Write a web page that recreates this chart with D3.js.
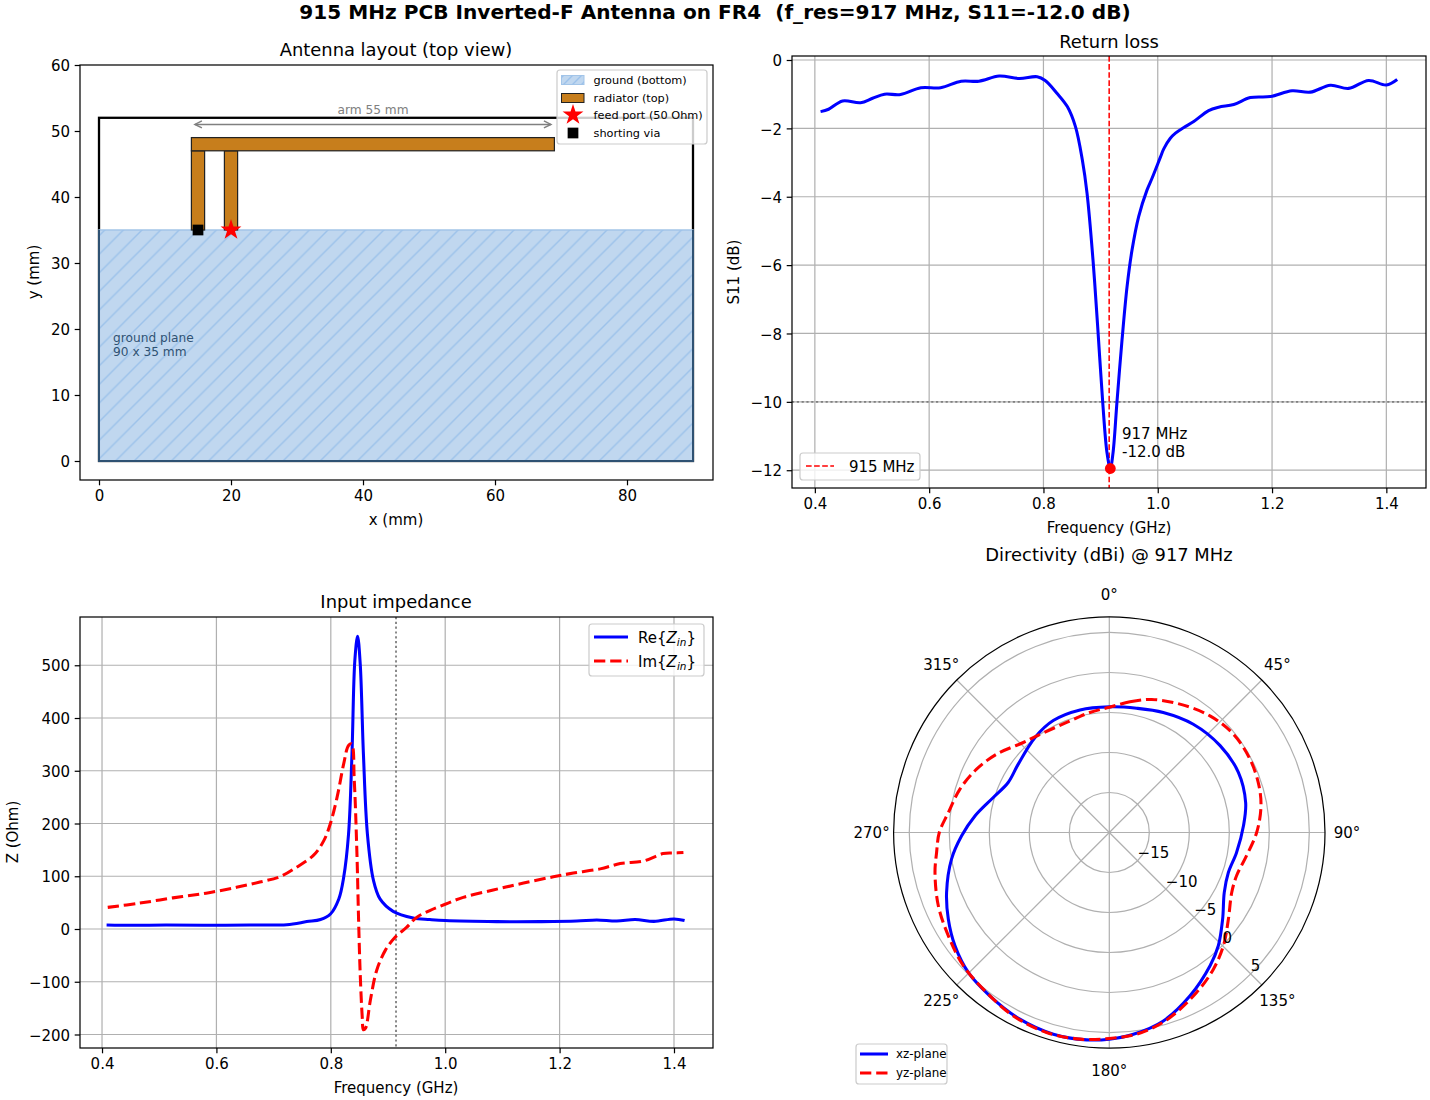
<!DOCTYPE html>
<html>
<head>
<meta charset="utf-8">
<script src="https://cdn.jsdelivr.net/npm/d3@7"></script>
<style>
html,body{margin:0;padding:0;background:#fff;}
svg{display:block;}
text{font-family:"DejaVu Sans",sans-serif;fill:#000;}
</style>
</head>
<body>
<script>
//layout values in mm
var boardSize=[90,52];
var groundSize=[90,35];
var armX=[14,69];
var armY=[47,49];
var legXs=[[14,16],[19,21]];
var legY=[35,47];
var viaPoint=[15,35];
var feedPoint=[20,35];
var arrowX=[14,69];
var arrowY=51;
var layoutXTicks=[0,20,40,60,80];
var layoutYTicks=[0,10,20,30,40,50,60];

//return loss
var s11Freq=[0.41,0.424,0.4485,0.48,0.501,0.522,0.55,0.5855,0.62,0.656,0.687,0.7225,0.758,0.789,0.803,0.824,0.842,0.856,0.868,0.8763,0.8867,0.8949,0.9036,0.9113,0.917,0.9217,0.9287,0.9375,0.9463,0.955,0.9666,0.9813,0.99,1.0045,1.0105,1.022,1.031,1.045,1.063,1.089,1.1065,1.133,1.162,1.197,1.235,1.267,1.302,1.334,1.369,1.4,1.419];
var s11Db=[-1.51,-1.44,-1.2,-1.25,-1.12,-1.0,-1.01,-0.81,-0.81,-0.62,-0.62,-0.47,-0.54,-0.49,-0.6,-0.98,-1.37,-1.95,-2.92,-3.9,-5.85,-7.8,-9.99,-11.5,-11.95,-11.5,-9.99,-8.19,-6.63,-5.56,-4.58,-3.8,-3.46,-2.85,-2.6,-2.29,-2.14,-1.98,-1.8,-1.48,-1.38,-1.3,-1.1,-1.07,-0.9,-0.94,-0.74,-0.83,-0.6,-0.73,-0.57];
var freqTicks=[0.4,0.6,0.8,1.0,1.2,1.4];
var s11Ticks=[0,-2,-4,-6,-8,-10,-12];
var markFreq=0.915;
var resFreq=0.917;
var resDb=-11.95;

//input impedance
var reFreq=[0.408,0.454,0.512,0.582,0.658,0.723,0.758,0.782,0.7994,0.814,0.8225,0.831,0.837,0.842,0.8468,0.8514,0.857,0.864,0.8746,0.886,0.909,0.944,0.973,1.0,1.09,1.166,1.23,1.265,1.3,1.332,1.365,1.4,1.4185];
var reZ=[7.6,7,7.6,7,7.6,8.2,14,18,28.5,57,98,180,332,509,555,503,332,180,92,57,33.5,21,18,16,14,14,15,17,15,18,14.5,19,16];
var imFreq=[0.41,0.4655,0.524,0.582,0.635,0.676,0.711,0.74,0.77,0.788,0.799,0.811,0.8225,0.831,0.8364,0.841,0.8457,0.8486,0.8514,0.855,0.857,0.8607,0.869,0.88,0.895,0.912,0.9324,0.95,0.973,1.0,1.0316,1.084,1.137,1.189,1.224,1.271,1.306,1.347,1.381,1.4,1.4165];
var imZ=[41,49,59,68,79,89,99,117,140,168,199,250,313,348,351,282,142,16,-85,-168,-191,-188,-136,-79,-41,-16,3,22,35,47,60,74,87,99,106,114,124,129,143,144,145];
var zTicks=[-200,-100,0,100,200,300,400,500];
var zFreqLine=0.914;

//directivity
var xzAngle=[0,12.4,24.2,37.8,51.9,65,77.6,87,98.9,108.6,117.5,127.4,136.1,142.9,153.7,164,173.2,180,186.2,195.5,205.6,216.2,225.2,233.7,241.7,249.8,260.4,268.7,277,286.8,296.3,306.9,322,333.4,346.6];
var xzDb=[-4.3,-4.1,-3.55,-2.87,-2.4,-2.2,-2.55,-3.2,-3.9,-4.3,-3.8,-2.17,-0.35,0.88,2.77,4.5,5.4,5.83,6.07,6.16,5.87,5.3,4.83,3.93,2.85,1.67,0,-1.54,-3.08,-4.85,-5.9,-5.77,-4.92,-4.35,-4.25];
var yzAngle=[0,9,17.7,28.8,40.8,51.6,62.5,72.7,80.6,90,99.6,108.8,116.1,126,134.8,142.7,151.4,163,172.3,180,188,197.4,207.6,217.5,227.6,237.3,246.8,257,263.4,270,277,286.2,295.5,304.8,316.3,324,338.8,350.8];
var yzDb=[-4.35,-3.46,-2.55,-1.69,-0.74,-0.21,-0.17,-0.4,-0.79,-1.58,-2.6,-3.2,-2.96,-1.6,0.1,1.47,2.78,4.5,5.44,5.75,6.08,6.2,5.87,5.2,4.7,3.9,3.25,2.36,1.73,1.25,0.28,-0.56,-1.62,-2.84,-4.44,-4.95,-5.25,-4.8];
var angleTicks=[0,45,90,135,180,225,270,315];
var rTicks=[-15,-10,-5,0,5];

var svg=d3.select("body").append("svg")
  .attr("width",1430)
  .attr("height",1100);

var gridW=1.22,lineW=3.05,tickFont=15,titleFont=17.9;
var dashThick="11.3,4.9",dashThin="5.65,2.44",dotted="2.2,2.6";

var defs=svg.append("defs");
function hatch(id,size){
  var p=defs.append("pattern")
    .attr("id",id)
    .attr("patternUnits","userSpaceOnUse")
    .attr("width",size)
    .attr("height",size);
  p.append("path")
    .attr("d",`M0,${size}L${size},0M${-size/2},${size/2}L${size/2},${-size/2}M${size/2},${size*1.5}L${size*1.5},${size/2}`)
    .attr("stroke","#9cc2ea")
    .attr("stroke-width",1.4);
}
hatch("groundHatch",18.6);
hatch("legendHatch",9);

var fmtMinus=function(d){return String(d).replace("-","\u2212");};

//grid lines for one cartesian panel
function grid(box,x,y,xTicks,yTicks){
  var g=svg.append("g");
  g.selectAll(".gx").data(xTicks).enter().append("line")
    .attr("x1",d=>x(d)).attr("x2",d=>x(d))
    .attr("y1",box.top).attr("y2",box.bottom)
    .attr("stroke","#b0b0b0").attr("stroke-width",gridW);
  g.selectAll(".gy").data(yTicks).enter().append("line")
    .attr("x1",box.left).attr("x2",box.right)
    .attr("y1",d=>y(d)).attr("y2",d=>y(d))
    .attr("stroke","#b0b0b0").attr("stroke-width",gridW);
}
function frame(box,x,y,xTicks,yTicks,xFmt){
  var g=svg.append("g");
  var ax=d3.axisBottom(x).tickValues(xTicks).tickFormat(xFmt).tickSize(5.3).tickPadding(4.6);
  var ay=d3.axisLeft(y).tickValues(yTicks).tickFormat(fmtMinus).tickSize(5.3).tickPadding(4.6);
  g.append("g").attr("transform",`translate(0,${box.bottom})`).call(ax);
  var yg=g.append("g").attr("transform",`translate(${box.left},0)`).call(ay);
  yg.selectAll(".tick text").attr("dy","0.38em");
  g.selectAll(".domain").remove();
  g.selectAll(".tick line").attr("stroke","#000").attr("stroke-width",gridW);
  g.selectAll(".tick text").attr("font-size",tickFont).attr("font-family","DejaVu Sans");
  g.append("rect")
    .attr("x",box.left).attr("y",box.top)
    .attr("width",box.right-box.left).attr("height",box.bottom-box.top)
    .attr("fill","none").attr("stroke","#000").attr("stroke-width",gridW);
}
function label(str,x,y,size,opts){
  opts=opts||{};
  var t=svg.append("text")
    .attr("x",x).attr("y",y)
    .attr("font-size",size)
    .attr("text-anchor",opts.anchor||"middle")
    .style("fill",opts.fill||"#000")
    .text(str);
  if(opts.weight)t.attr("font-weight",opts.weight);
  if(opts.rotate)t.attr("transform",`rotate(${opts.rotate},${x},${y})`);
  return t;
}
function legendBox(x,y,w,h){
  svg.append("rect")
    .attr("x",x).attr("y",y).attr("width",w).attr("height",h)
    .attr("rx",3).attr("ry",3)
    .attr("fill","#fff").attr("fill-opacity",0.8)
    .attr("stroke","#ccc").attr("stroke-width",gridW);
}

var tick1=d3.format(".1f");

label("915 MHz PCB Inverted-F Antenna on FR4  (f_res=917 MHz, S11=-12.0 dB)",715,19,20.1,{weight:"bold"}).attr("xml:space","preserve");

//----- antenna layout
var box1={left:80,right:713,top:65,bottom:480};
var x1=d3.scaleLinear().domain([-2.88,93.03]).range([box1.left,box1.right]);
var y1=d3.scaleLinear().domain([-2.88,60]).range([box1.bottom,box1.top]);

svg.append("rect")
  .attr("x",x1(0)).attr("y",y1(boardSize[1]))
  .attr("width",x1(boardSize[0])-x1(0)).attr("height",y1(0)-y1(boardSize[1]))
  .attr("fill","none").attr("stroke","#000").attr("stroke-width",2.3);
svg.append("rect")
  .attr("x",x1(0)).attr("y",y1(groundSize[1]))
  .attr("width",x1(groundSize[0])-x1(0)).attr("height",y1(0)-y1(groundSize[1]))
  .attr("fill","#c0d7ef")
  .attr("stroke","#a3c5e8").attr("stroke-width",1.5);
svg.append("rect")
  .attr("x",x1(0)).attr("y",y1(groundSize[1]))
  .attr("width",x1(groundSize[0])-x1(0)).attr("height",y1(0)-y1(groundSize[1]))
  .attr("fill","url(#groundHatch)");

//dark edge where ground covers the board outline
var darkEdge=d3.line().x(d=>x1(d[0])).y(d=>y1(d[1]));
svg.append("path")
  .attr("d",darkEdge([[0,groundSize[1]],[0,0],[groundSize[0],0],[groundSize[0],groundSize[1]]]))
  .attr("fill","none").attr("stroke","#2f5273").attr("stroke-width",2);

var radiatorColor="#c77e1c";
legXs.forEach(function(leg){
  svg.append("rect")
    .attr("x",x1(leg[0])).attr("y",y1(legY[1]))
    .attr("width",x1(leg[1])-x1(leg[0])).attr("height",y1(legY[0])-y1(legY[1]))
    .attr("fill",radiatorColor).attr("stroke","#222").attr("stroke-width",1.22);
});
svg.append("rect")
  .attr("x",x1(armX[0])).attr("y",y1(armY[1]))
  .attr("width",x1(armX[1])-x1(armX[0])).attr("height",y1(armY[0])-y1(armY[1]))
  .attr("fill",radiatorColor).attr("stroke","#222").attr("stroke-width",1.22);

//arrow
var arrowColor="#808080";
svg.append("line")
  .attr("x1",x1(arrowX[0])+3.5).attr("x2",x1(arrowX[1])-3.5)
  .attr("y1",y1(arrowY)).attr("y2",y1(arrowY))
  .attr("stroke",arrowColor).attr("stroke-width",1.5);
[[arrowX[0],1],[arrowX[1],-1]].forEach(function(a){
  var px=x1(a[0])+a[1]*3.5,py=y1(arrowY);
  svg.append("path")
    .attr("d",`M${px+a[1]*7},${py-3.5}L${px},${py}L${px+a[1]*7},${py+3.5}`)
    .attr("fill","none").attr("stroke",arrowColor).attr("stroke-width",1.5);
});
label("arm 55 mm",373,114,12.2,{fill:"#808080"});

svg.append("path")
  .attr("transform",`translate(${x1(viaPoint[0])},${y1(viaPoint[1])})`)
  .attr("d",d3.symbol().type(d3.symbolSquare).size(115)())
  .attr("fill","#000");
svg.append("path")
  .attr("transform",`translate(${x1(feedPoint[0])},${y1(feedPoint[1])})`)
  .attr("d",d3.symbol().type(d3.symbolStar).size(135)())
  .attr("fill","#f00");

label("ground plane",113,342,12.2,{anchor:"start",fill:"#2f5273"});
label("90 x 35 mm",113,356,12.2,{anchor:"start",fill:"#2f5273"});

frame(box1,x1,y1,layoutXTicks,layoutYTicks,d=>d);
label("Antenna layout (top view)",396,56,titleFont);
label("x (mm)",396,525,tickFont);
label("y (mm)",39,272,tickFont,{rotate:-90});

//legend of layout panel
legendBox(557,70,150,74);
svg.append("rect").attr("x",561.5).attr("y",75.5).attr("width",22.5).attr("height",9)
  .attr("fill","#c0d7ef").attr("stroke","#a3c5e8").attr("stroke-width",1);
svg.append("rect").attr("x",561.5).attr("y",75.5).attr("width",22.5).attr("height",9)
  .attr("fill","url(#legendHatch)");
svg.append("rect").attr("x",561.5).attr("y",93.5).attr("width",22.5).attr("height",9)
  .attr("fill",radiatorColor).attr("stroke","#222").attr("stroke-width",1);
svg.append("path").attr("transform","translate(573,115)")
  .attr("d",d3.symbol().type(d3.symbolStar).size(135)()).attr("fill","#f00");
svg.append("path").attr("transform","translate(573,133)")
  .attr("d",d3.symbol().type(d3.symbolSquare).size(115)()).attr("fill","#000");
["ground (bottom)","radiator (top)","feed port (50 Ohm)","shorting via"].forEach(function(s,i){
  label(s,593.5,84+i*17.7,11.3,{anchor:"start"});
});

//----- return loss
var box2={left:792,right:1426,top:56,bottom:488};
var x2=d3.scaleLinear().domain([0.36,1.4694]).range([box2.left,box2.right]);
var y2=d3.scaleLinear().domain([-12.52,0.117]).range([box2.bottom,box2.top]);
grid(box2,x2,y2,freqTicks,s11Ticks);

svg.append("line")
  .attr("x1",box2.left).attr("x2",box2.right)
  .attr("y1",y2(-10)).attr("y2",y2(-10))
  .attr("stroke","#808080").attr("stroke-width",1.83).attr("stroke-dasharray",dotted);
svg.append("line")
  .attr("x1",x2(markFreq)).attr("x2",x2(markFreq))
  .attr("y1",box2.top).attr("y2",box2.bottom)
  .attr("stroke","#f00").attr("stroke-width",1.53).attr("stroke-dasharray",dashThin);

var s11Line=d3.line()
  .x((d,i)=>x2(s11Freq[i]))
  .y((d,i)=>y2(d))
  .curve(d3.curveCatmullRom.alpha(0.5));
svg.append("path")
  .attr("d",s11Line(s11Db))
  .attr("fill","none").attr("stroke","#00f").attr("stroke-width",lineW);
svg.append("circle")
  .attr("cx",x2(resFreq)).attr("cy",y2(resDb)).attr("r",5.4).attr("fill","#f00");

label("917 MHz",1122,439,tickFont,{anchor:"start"});
label("-12.0 dB",1122,457,tickFont,{anchor:"start"});

frame(box2,x2,y2,freqTicks,s11Ticks,tick1);
label("Return loss",1109,48,titleFont);
label("Frequency (GHz)",1109,533,tickFont);
label("S11 (dB)",739,272,tickFont,{rotate:-90});

legendBox(800,453,120,27);
svg.append("line").attr("x1",806).attr("x2",834).attr("y1",466).attr("y2",466)
  .attr("stroke","#f00").attr("stroke-width",1.53).attr("stroke-dasharray",dashThin);
label("915 MHz",849,472,tickFont,{anchor:"start"});

//----- input impedance
var box3={left:80,right:713,top:617,bottom:1048};
var x3=d3.scaleLinear().domain([0.3615,1.4682]).range([box3.left,box3.right]);
var y3=d3.scaleLinear().domain([-225.6,591.5]).range([box3.bottom,box3.top]);
grid(box3,x3,y3,freqTicks,zTicks);

svg.append("line")
  .attr("x1",x3(zFreqLine)).attr("x2",x3(zFreqLine))
  .attr("y1",box3.top).attr("y2",box3.bottom)
  .attr("stroke","#808080").attr("stroke-width",1.83).attr("stroke-dasharray",dotted);

var reLine=d3.line()
  .x((d,i)=>x3(reFreq[i]))
  .y(d=>y3(d))
  .curve(d3.curveCatmullRom.alpha(0.5));
var imLine=d3.line()
  .x((d,i)=>x3(imFreq[i]))
  .y(d=>y3(d))
  .curve(d3.curveCatmullRom.alpha(0.5));
svg.append("path")
  .attr("d",reLine(reZ))
  .attr("fill","none").attr("stroke","#00f").attr("stroke-width",lineW);
svg.append("path")
  .attr("d",imLine(imZ))
  .attr("fill","none").attr("stroke","#f00").attr("stroke-width",lineW).attr("stroke-dasharray",dashThick);

frame(box3,x3,y3,freqTicks,zTicks,tick1);
label("Input impedance",396,608,titleFont);
label("Frequency (GHz)",396,1093,tickFont);
label("Z (Ohm)",18,832,tickFont,{rotate:-90});

legendBox(589,624,115,52);
svg.append("line").attr("x1",594).attr("x2",628).attr("y1",637).attr("y2",637)
  .attr("stroke","#00f").attr("stroke-width",lineW);
svg.append("line").attr("x1",594).attr("x2",628).attr("y1",661).attr("y2",661)
  .attr("stroke","#f00").attr("stroke-width",lineW).attr("stroke-dasharray",dashThick);
[["Re",643],["Im",667]].forEach(function(r){
  var t=svg.append("text").attr("x",638).attr("y",r[1]).attr("font-size",tickFont);
  t.append("tspan").text(r[0]+"{");
  t.append("tspan").attr("font-style","italic").text("Z");
  t.append("tspan").attr("font-style","italic").attr("font-size",10.5).attr("dy",2.5).text("in");
  t.append("tspan").attr("dy",-2.5).text("}");
});

//----- directivity polar
var cx=1109.3,cy=832.5,outerR=215.7;
var rScale=d3.scaleLinear().domain([-20,6.96]).range([0,outerR]);
var polar=svg.append("g").attr("transform",`translate(${cx},${cy})`);

polar.selectAll(".rgrid").data(rTicks).enter().append("circle")
  .attr("r",d=>rScale(d))
  .attr("fill","none").attr("stroke","#b0b0b0").attr("stroke-width",gridW);
polar.selectAll(".agrid").data(angleTicks).enter().append("line")
  .attr("x1",0).attr("y1",0)
  .attr("x2",d=>outerR*Math.sin(d*Math.PI/180))
  .attr("y2",d=>-outerR*Math.cos(d*Math.PI/180))
  .attr("stroke","#b0b0b0").attr("stroke-width",gridW);

var xzLine=d3.lineRadial()
  .angle((d,i)=>xzAngle[i]*Math.PI/180)
  .radius(d=>rScale(d))
  .curve(d3.curveCatmullRomClosed.alpha(0.5));
var yzLine=d3.lineRadial()
  .angle((d,i)=>yzAngle[i]*Math.PI/180)
  .radius(d=>rScale(d))
  .curve(d3.curveCatmullRomClosed.alpha(0.5));
polar.append("path")
  .attr("d",xzLine(xzDb))
  .attr("fill","none").attr("stroke","#00f").attr("stroke-width",lineW);
polar.append("path")
  .attr("d",yzLine(yzDb))
  .attr("fill","none").attr("stroke","#f00").attr("stroke-width",lineW).attr("stroke-dasharray",dashThick);

polar.append("circle").attr("r",outerR)
  .attr("fill","none").attr("stroke","#000").attr("stroke-width",gridW);

polar.selectAll(".rlabel").data(rTicks).enter().append("text")
  .attr("x",d=>rScale(d)*Math.SQRT1_2)
  .attr("y",d=>rScale(d)*Math.SQRT1_2-2.5)
  .attr("font-size",tickFont)
  .text(fmtMinus);
polar.selectAll(".alabel").data(angleTicks).enter().append("text")
  .attr("x",d=>(outerR+22)*Math.sin(d*Math.PI/180))
  .attr("y",d=>-(outerR+22)*Math.cos(d*Math.PI/180)+5.5)
  .attr("text-anchor","middle")
  .attr("font-size",tickFont)
  .text(d=>d+"\u00b0");

label("Directivity (dBi) @ 917 MHz",1109,561,titleFont);

legendBox(856,1044,91,40);
svg.append("line").attr("x1",860).attr("x2",888).attr("y1",1054).attr("y2",1054)
  .attr("stroke","#00f").attr("stroke-width",lineW);
svg.append("line").attr("x1",860).attr("x2",888).attr("y1",1073).attr("y2",1073)
  .attr("stroke","#f00").attr("stroke-width",lineW).attr("stroke-dasharray",dashThick);
label("xz-plane",896,1058,11.9,{anchor:"start"});
label("yz-plane",896,1077,11.9,{anchor:"start"});
</script>
</body>
</html>
